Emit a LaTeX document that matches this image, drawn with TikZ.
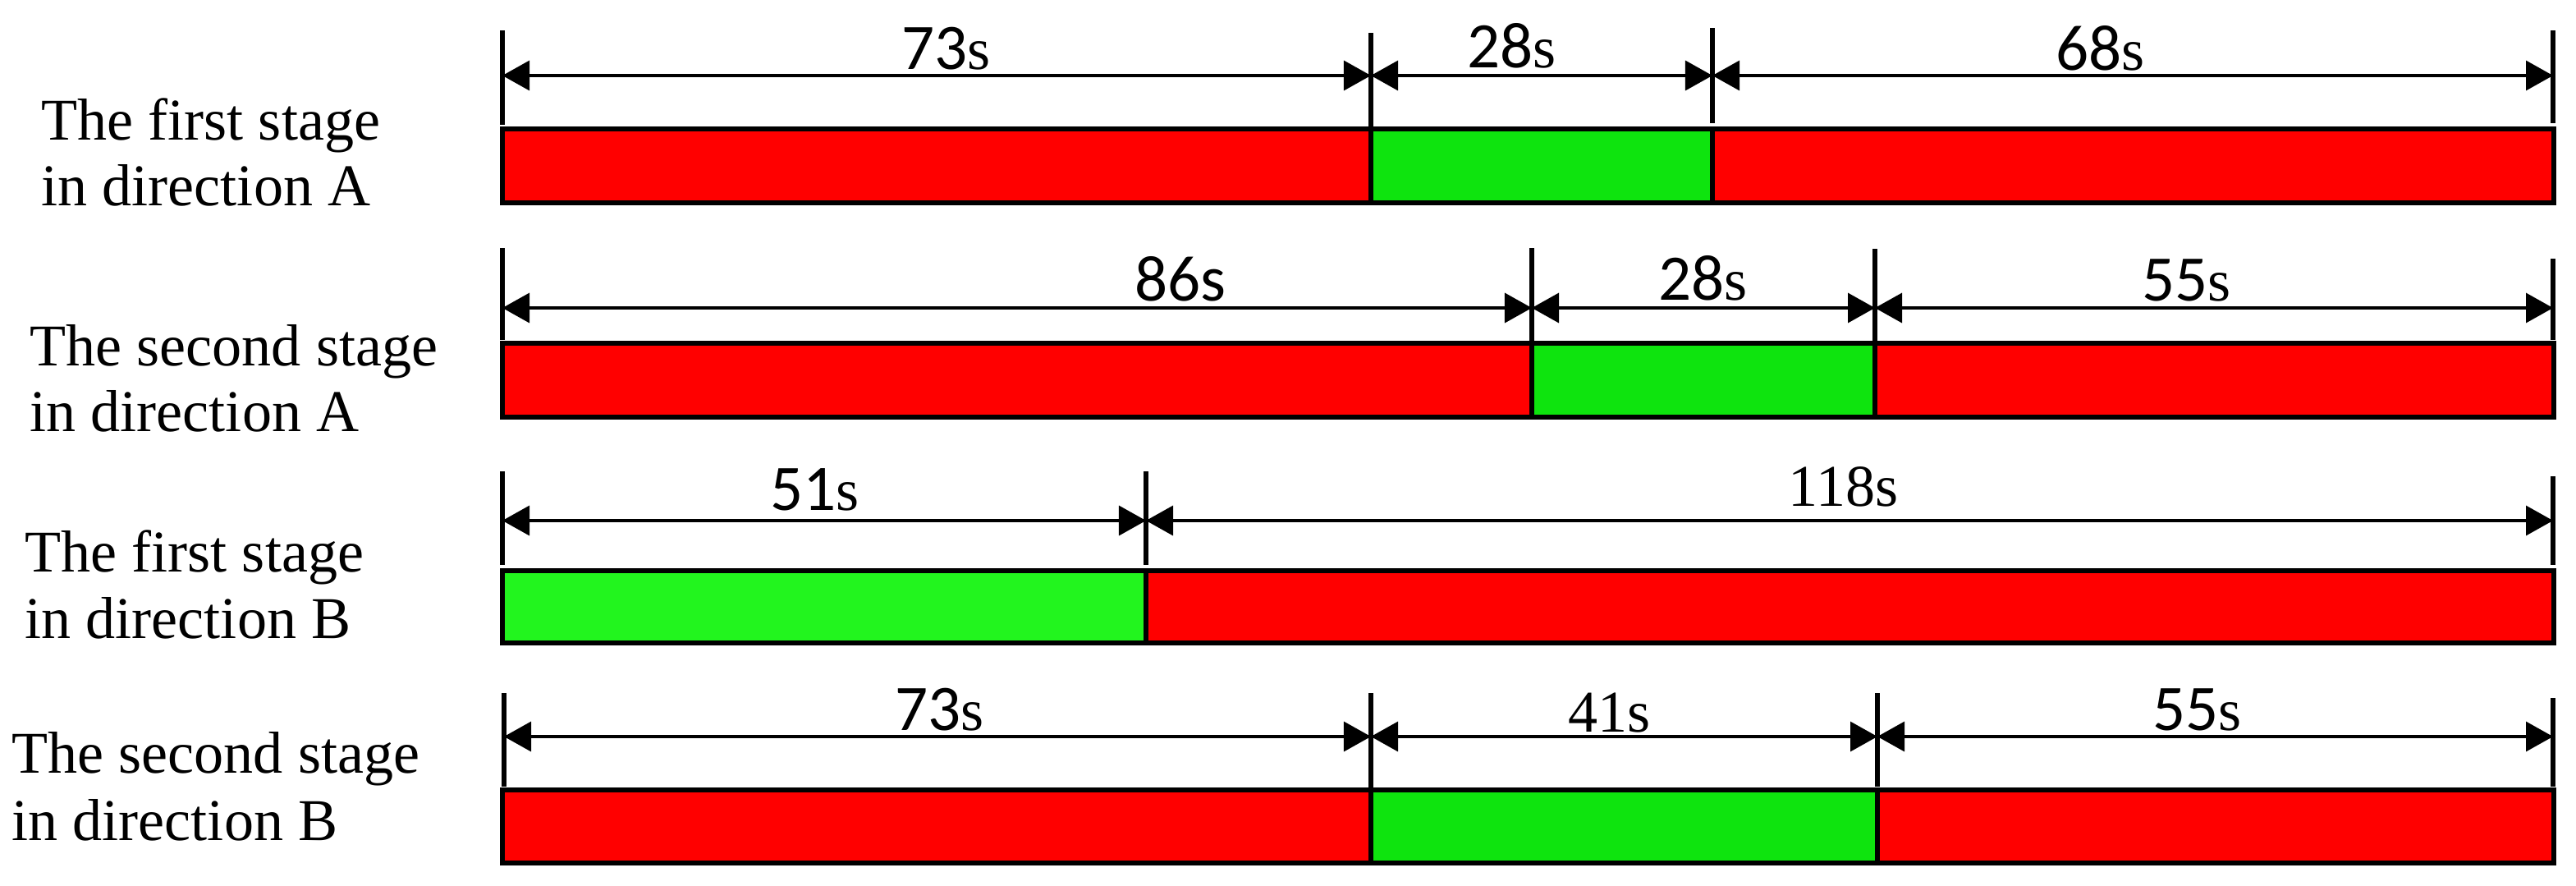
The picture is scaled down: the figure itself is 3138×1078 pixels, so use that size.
\documentclass[tikz,border=0pt]{standalone}
\usepackage{fontspec}
\setmainfont{Liberation Serif}
\newfontfamily\carlfont{Carlito}
\usetikzlibrary{arrows.meta}
\definecolor{sigred}{RGB}{255,0,0}
\definecolor{siggreen}{RGB}{14,228,14}
\definecolor{siggreenb}{RGB}{34,245,30}
\tikzset{
  seg/.style={draw=black, line width=1.7pt},
  tickln/.style={draw=black, line width=1.9pt},
  dimln/.style={draw=black, line width=1pt, {Triangle[length=0.33cm,width=0.36cm]}-{Triangle[length=0.33cm,width=0.36cm]}},
  lbl/.style={anchor=base west, inner sep=0pt, font=\fontsize{20.5pt}{24pt}\selectfont},
  dur/.style={anchor=base west, inner sep=0pt, font=\fontsize{20.5pt}{24pt}\selectfont},
}
\newcommand\dg[1]{{\carlfont\fontsize{22.5pt}{24pt}\selectfont #1}}
\begin{document}
\begin{tikzpicture}[x=0.01cm,y=-0.01cm]
\useasboundingbox (0,0) rectangle (3138,1078);

% ---------- Row 1 ----------
\node[lbl] (t1a) at (50,170) {The first stage};
\node[lbl] (t1b) at (50,250) {in direction A};
\draw[seg, fill=sigred]   (612,157) rectangle (1670,247);
\draw[seg, fill=siggreen] (1670,157) rectangle (2086,247);
\draw[seg, fill=sigred]   (2086,157) rectangle (3111,247);
\coordinate (r1t0) at (612,37);  \coordinate (r1b0) at (612,152);
\coordinate (r1t1) at (1670,40); \coordinate (r1b1) at (1670,157);
\coordinate (r1t2) at (2086,34); \coordinate (r1b2) at (2086,150);
\coordinate (r1t3) at (3110,37); \coordinate (r1b3) at (3110,150);
\foreach \i in {0,...,3} \draw[tickln] (r1t\i) -- (r1b\i);
\coordinate (r1a0) at (612,92); \coordinate (r1a1) at (1670,92);
\coordinate (r1a2) at (2086,92); \coordinate (r1a3) at (3110,92);
\draw[dimln] (r1a0) -- (r1a1);
\draw[dimln] (r1a1) -- (r1a2);
\draw[dimln] (r1a2) -- (r1a3);
\node[dur] (d1a) at (1098,84) {\dg{73}s};
\node[dur] (d1b) at (1787,82) {\dg{28}s};
\node[dur] (d1c) at (2504,85) {\dg{68}s};

% ---------- Row 2 ----------
\node[lbl] (t2a) at (36,445) {The second stage};
\node[lbl] (t2b) at (36,525) {in direction A};
\draw[seg, fill=sigred]   (612,418) rectangle (1866,508);
\draw[seg, fill=siggreen] (1866,418) rectangle (2284,508);
\draw[seg, fill=sigred]   (2284,418) rectangle (3111,508);
\coordinate (r2t0) at (612,302);  \coordinate (r2b0) at (612,414);
\coordinate (r2t1) at (1866,302); \coordinate (r2b1) at (1866,418);
\coordinate (r2t2) at (2284,303); \coordinate (r2b2) at (2284,418);
\coordinate (r2t3) at (3110,315); \coordinate (r2b3) at (3110,414);
\foreach \i in {0,...,3} \draw[tickln] (r2t\i) -- (r2b\i);
\coordinate (r2a0) at (612,375); \coordinate (r2a1) at (1866,375);
\coordinate (r2a2) at (2284,375); \coordinate (r2a3) at (3110,375);
\draw[dimln] (r2a0) -- (r2a1);
\draw[dimln] (r2a1) -- (r2a2);
\draw[dimln] (r2a2) -- (r2a3);
\node[dur] (d2a) at (1382,366) {\dg{86s}};
\node[dur] (d2b) at (2020,365) {\dg{28}s};
\node[dur] (d2c) at (2609,366) {\dg{55}s};

% ---------- Row 3 ----------
\node[lbl] (t3a) at (30,696) {The first stage};
\node[lbl] (t3b) at (30,777) {in direction B};
\draw[seg, fill=siggreenb] (612,695) rectangle (1396,783);
\draw[seg, fill=sigred]    (1396,695) rectangle (3111,783);
\coordinate (r3t0) at (612,574);  \coordinate (r3b0) at (612,688);
\coordinate (r3t1) at (1396,574); \coordinate (r3b1) at (1396,688);
\coordinate (r3t2) at (3110,580); \coordinate (r3b2) at (3110,688);
\foreach \i in {0,...,2} \draw[tickln] (r3t\i) -- (r3b\i);
\coordinate (r3a0) at (612,634); \coordinate (r3a1) at (1396,634);
\coordinate (r3a2) at (3110,634);
\draw[dimln] (r3a0) -- (r3a1);
\draw[dimln] (r3a1) -- (r3a2);
\node[dur] (d3a) at (938,621) {\dg{51}s};
\node[dur] (d3b) at (2178,616) {118s};

% ---------- Row 4 ----------
\node[lbl] (t4a) at (14,941) {The second stage};
\node[lbl] (t4b) at (14,1023) {in direction B};
\draw[seg, fill=sigred]   (612,962) rectangle (1670,1051);
\draw[seg, fill=siggreen] (1670,962) rectangle (2287,1051);
\draw[seg, fill=sigred]   (2287,962) rectangle (3111,1051);
\coordinate (r4t0) at (614,844);  \coordinate (r4b0) at (614,958);
\coordinate (r4t1) at (1670,844); \coordinate (r4b1) at (1670,962);
\coordinate (r4t2) at (2287,844); \coordinate (r4b2) at (2287,958);
\coordinate (r4t3) at (3110,850); \coordinate (r4b3) at (3110,958);
\foreach \i in {0,...,3} \draw[tickln] (r4t\i) -- (r4b\i);
\coordinate (r4a0) at (614,897); \coordinate (r4a1) at (1670,897);
\coordinate (r4a2) at (2287,897); \coordinate (r4a3) at (3110,897);
\draw[dimln] (r4a0) -- (r4a1);
\draw[dimln] (r4a1) -- (r4a2);
\draw[dimln] (r4a2) -- (r4a3);
\node[dur] (d4a) at (1090,889) {\dg{73}s};
\node[dur] (d4b) at (1910,891) {41s};
\node[dur] (d4c) at (2622,889) {\dg{55}s};
\end{tikzpicture}
\end{document}
